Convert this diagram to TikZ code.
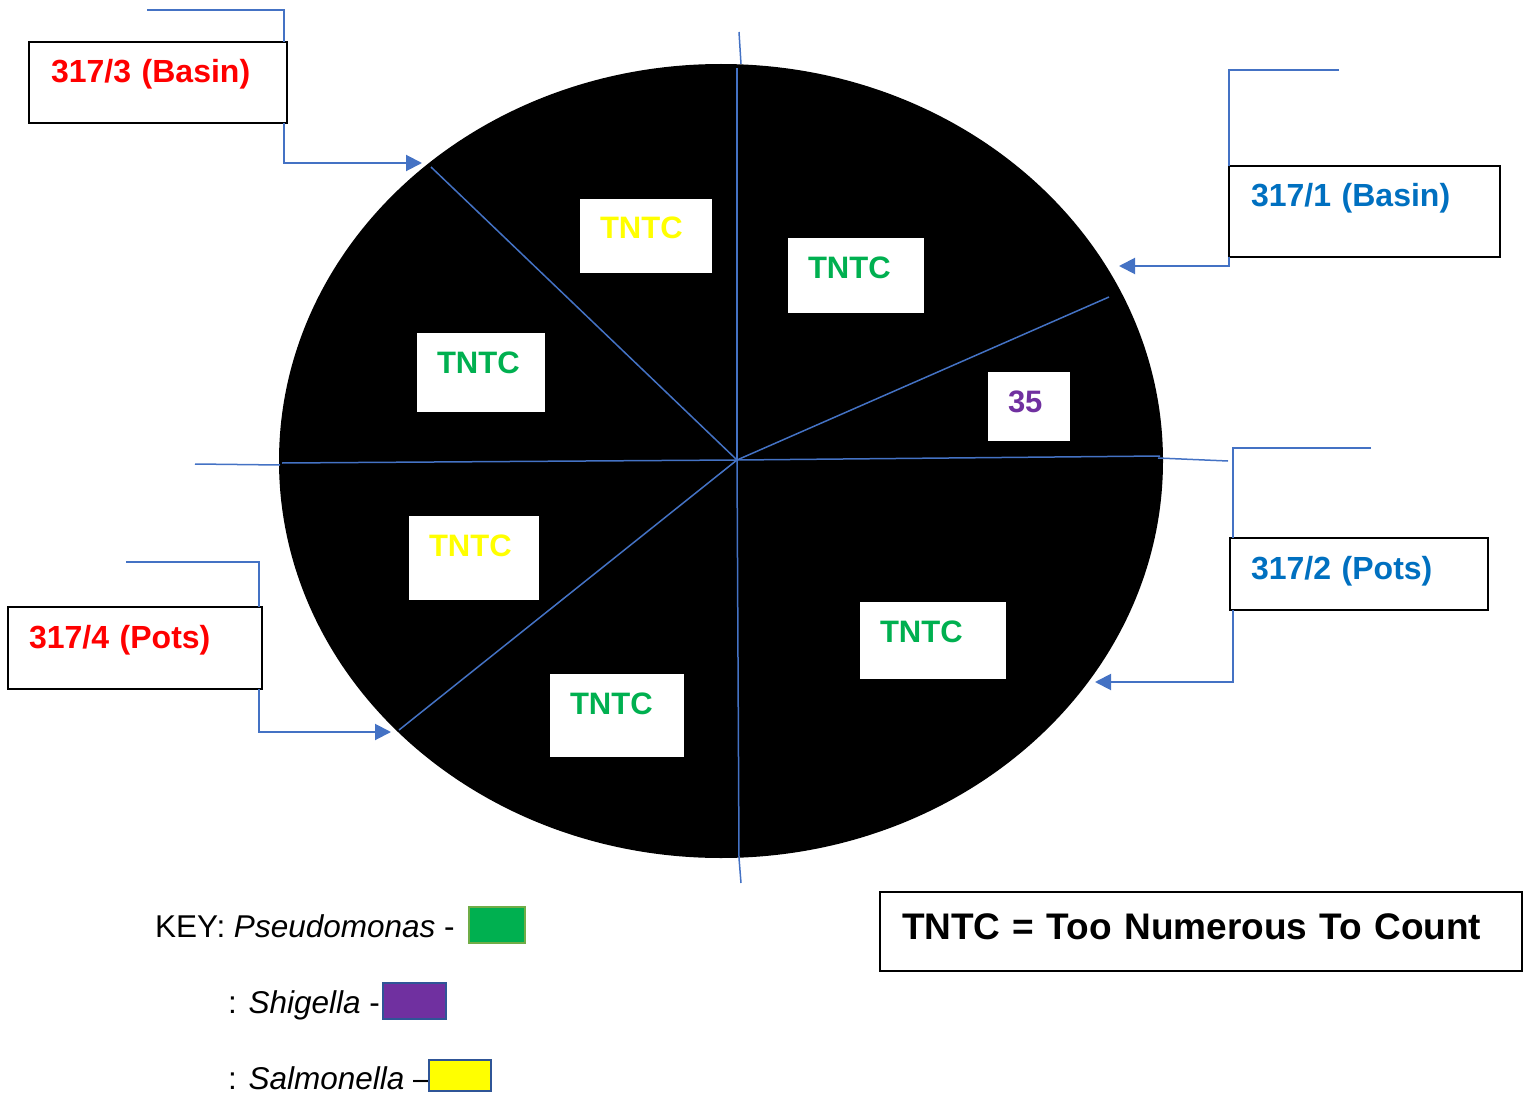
\documentclass[tikz,border=0pt]{standalone}
\usepackage{fontspec}
\setmainfont{Liberation Sans}
\usepackage{xcolor}
\usetikzlibrary{arrows.meta}
\definecolor{lineblue}{HTML}{4472C4}
\definecolor{labred}{HTML}{FF0000}
\definecolor{labblue}{HTML}{0070C0}
\definecolor{pseudo}{HTML}{00B050}
\definecolor{shig}{HTML}{7030A0}
\definecolor{salm}{HTML}{FFFF00}
\definecolor{keyedge}{HTML}{2F5597}
\definecolor{pseudoedge}{HTML}{70AD47}

\begin{document}
\begin{tikzpicture}[x=1pt,y=-1pt]
        \tikzset{
        cnt box/.style={fill=white,anchor=north west,outer sep=0pt,inner xsep=20pt,inner ysep=0pt,text height=40pt,align=left,font=\fontsize{31}{36}\selectfont\bfseries},
        lab box/.style={draw,line width=2.5pt,fill=white,anchor=north west,outer sep=0pt,inner xsep=22pt,inner ysep=0pt,text height=41pt,align=left,font=\fontsize{32}{36}\selectfont\bfseries},
        lead/.style={draw=lineblue,line width=2pt},
        lead tip/.style={lead,-{Triangle[length=16pt,width=16pt]}},
        divider/.style={draw=lineblue,line width=1.5pt},
        key text/.style={anchor=base west,inner sep=0pt,font=\fontsize{31.5}{36}\selectfont},
        key box/.style={anchor=north west,outer sep=0pt,line width=2pt}
        }
        \useasboundingbox (0,0) rectangle (1523,1094);

        % plate
        \fill[black] (721,461) ellipse [x radius=442, y radius=397];
        \coordinate (o) at (737,460);
        \draw[divider] (o) -- (737,68);
        \draw[divider] (o) -- (739,858);
        \draw[divider] (o) -- (431,167);
        \draw[divider] (o) -- (1109,297);
        \draw[divider] (o) -- (282,463);
        \draw[divider] (o) -- (1160,456);
        \draw[divider] (o) -- (399,730);
        \draw[divider] (739,32) -- (741,64);
        \draw[divider] (739,858) -- (741,883);
        \draw[divider] (195,464) -- (280,465);
        \draw[divider] (1158,458) -- (1228,461);

        % counts
        \node[cnt box,text=salm,text width=92pt,text depth=34pt] (c1) at (580,199) {TNTC};
        \node[cnt box,text=pseudo,text width=96pt,text depth=35pt] (c2) at (788,238) {TNTC};
        \node[cnt box,text=pseudo,text width=88pt,text depth=39pt] (c3) at (417,333) {TNTC};
        \node[cnt box,text=shig,text width=42pt,text depth=29pt] (c4) at (988,372) {35};
        \node[cnt box,text=salm,text width=90pt,text depth=44pt] (c5) at (409,516) {TNTC};
        \node[cnt box,text=pseudo,text width=106pt,text depth=37pt] (c6) at (860,602) {TNTC};
        \node[cnt box,text=pseudo,text width=94pt,text depth=43pt] (c7) at (550,674) {TNTC};

        % sample labels
        \node[lab box,text=labred,text width=214pt,text depth=40pt] (l3) at (29,42) {317/3 (Basin)};
        \node[lab box,text=labblue,text width=227pt,text depth=50pt] (l1) at (1229,166) {317/1 (Basin)};
        \node[lab box,text=labblue,text width=216pt,text depth=31pt,inner xsep=21pt] (l2) at (1230,538) {317/2 (Pots)};
        \node[lab box,text=labred,text width=212pt,text depth=41pt,inner xsep=21pt] (l4) at (8,607) {317/4 (Pots)};

        \coordinate (l3in) at (147,10);
        \coordinate (l3tip) at (422,163);
        \coordinate (l1in) at (1339,70);
        \coordinate (l1tip) at (1119,266);
        \coordinate (l2in) at (1371,448);
        \coordinate (l2tip) at (1095,682);
        \coordinate (l4in) at (126,562);
        \coordinate (l4tip) at (391,732);

        \draw[lead] (l3in) -| ([xshift=-3pt]l3.north east);
        \draw[lead tip] ([xshift=-3pt]l3.south east) |- (l3tip);
        \draw[lead] (l1in) -| (l1.north west);
        \draw[lead tip] (l1.south west) |- (l1tip);
        \draw[lead] (l2in) -| ([xshift=3pt]l2.north west);
        \draw[lead tip] ([xshift=3pt]l2.south west) |- (l2tip);
        \draw[lead] (l4in) -| ([xshift=-3pt]l4.north east);
        \draw[lead tip] ([xshift=-3pt]l4.south east) |- (l4tip);

        % key
        \node[key text] (k1) at (155,937) {KEY: \textit{Pseudomonas} -};
        \node[key text] (k2) at (228,1013) {: \textit{Shigella} -};
        \node[key text] (k3) at (228,1089) {: \textit{Salmonella} --};
        \node[key box,fill=pseudo,draw=pseudoedge,minimum width=56pt,minimum height=36pt] (kg) at (469,907) {};
        \node[key box,fill=shig,draw=keyedge,minimum width=63pt,minimum height=36pt] (kp) at (383,983) {};
        \node[key box,fill=salm,draw=keyedge,minimum width=62pt,minimum height=31pt] (ky) at (429,1060) {};

        \node[lab box,line width=2pt,inner xsep=22pt,text width=598pt,text height=47pt,text depth=32pt,font=\fontsize{37}{40}\selectfont\bfseries] (note) at (880,892) {TNTC = Too Numerous To Count};
\end{tikzpicture}
\end{document}
